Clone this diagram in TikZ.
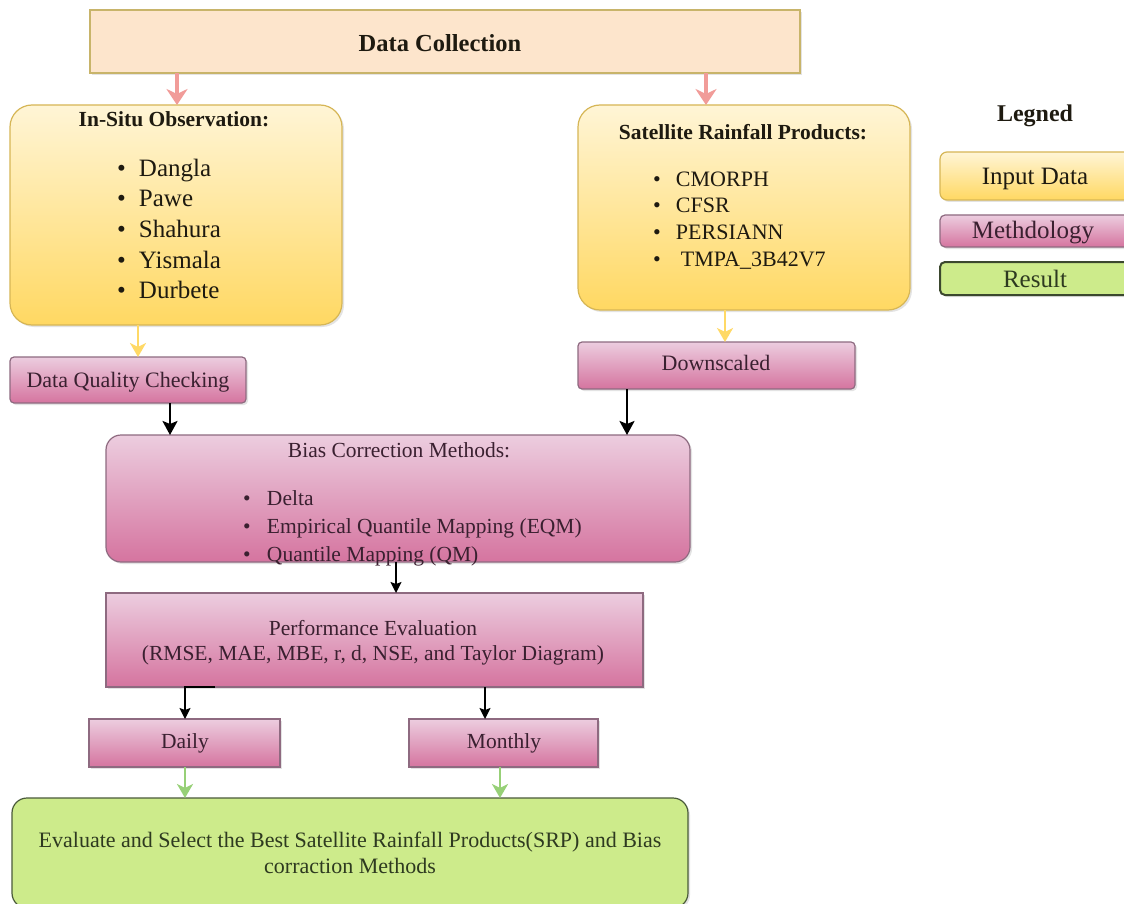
\documentclass[tikz,border=0pt]{standalone}
\usepackage{fontspec}
\setmainfont{Liberation Serif}
\usetikzlibrary{arrows.meta,shadows}
\definecolor{dcfill}{HTML}{FDE5CC}
\definecolor{dcline}{HTML}{C8B46A}
\definecolor{ytop}{HTML}{FFF5D6}
\definecolor{ybot}{HTML}{FFD862}
\definecolor{yline}{HTML}{D6B656}
\definecolor{ptop}{HTML}{ECCDDF}
\definecolor{pbot}{HTML}{D5749F}
\definecolor{pline}{HTML}{8E6A80}
\definecolor{gfill}{HTML}{CDEB8B}
\definecolor{gline}{HTML}{4A5A3A}
\definecolor{parrow}{HTML}{F19C99}
\definecolor{yarrow}{HTML}{FFD966}
\definecolor{garrow}{HTML}{97D077}
\definecolor{ptext}{HTML}{3A2030}
\definecolor{gtext}{HTML}{2E3A20}
\definecolor{ytext}{HTML}{1E1A10}
\begin{document}
\begin{tikzpicture}[x=1pt,y=-1pt,
  every node/.style={inner sep=0pt,outer sep=0pt},
  shd/.style={drop shadow={opacity=0.22,shadow xshift=2pt,shadow yshift=-2pt}},
  boxbase/.style={anchor=north west,line width=1.2pt},
  dcbox/.style={boxbase,draw=dcline,fill=dcfill,shd},
  ybox/.style={boxbase,draw=yline,top color=ytop,bottom color=ybot,shd},
  pbox/.style={boxbase,draw=pline,top color=ptop,bottom color=pbot,shd},
  gbox/.style={boxbase,draw=gline,fill=gfill,shd},
  parr/.style={draw=parrow,line width=3.5pt,-{Stealth[length=16pt,width=21pt,inset=5pt]}},
  yarr/.style={draw=yarrow,line width=2.5pt,-{Stealth[length=14pt,width=16pt,inset=4pt]}},
  garr/.style={draw=garrow,line width=2.5pt,-{Stealth[length=14pt,width=16pt,inset=4pt]}},
  barr/.style={draw=black,line width=2.5pt,-{Stealth[length=14pt,width=15pt,inset=3pt]}},
  tarr/.style={draw=black,line width=1.5pt,-{Stealth[length=11pt,width=11pt,inset=2pt]}},
  ttl/.style={anchor=base,font=\bfseries\fontsize{21.5}{25}\selectfont,text=ytext},
  yitem/.style={anchor=base west,font=\fontsize{25}{29}\selectfont,text=ytext},
  sitem/.style={anchor=base west,font=\fontsize{22}{26}\selectfont,text=ytext},
  ptxt/.style={anchor=base,font=\fontsize{21.5}{25}\selectfont,text=ptext},
  pitem/.style={anchor=base west,font=\fontsize{21.5}{25}\selectfont,text=ptext},
  ltxt/.style={anchor=base,font=\fontsize{25}{29}\selectfont,text=ytext}
]
\fill[white] (0,0) rectangle (1124,904);
\useasboundingbox (0,0) rectangle (1124,904);

% boxes
\node[dcbox,minimum width=710pt,minimum height=63pt] (dc) at (90,10) {};
\node[ybox,rounded corners=22pt,minimum width=332pt,minimum height=220pt] (ins) at (10,105) {};
\node[ybox,rounded corners=22pt,minimum width=332pt,minimum height=205pt] (sat) at (578,105) {};
\node[pbox,rounded corners=4pt,minimum width=236pt,minimum height=46pt] (dqc) at (10,357) {};
\node[pbox,rounded corners=4pt,minimum width=277pt,minimum height=47pt] (down) at (578,342) {};
\node[pbox,rounded corners=15pt,minimum width=584pt,minimum height=127pt] (bias) at (106,435) {};
\node[pbox,minimum width=537pt,minimum height=94pt] (perf) at (106,593) {};
\node[pbox,minimum width=191pt,minimum height=48pt] (daily) at (89,719) {};
\node[pbox,minimum width=189pt,minimum height=48pt] (month) at (409,719) {};
\node[gbox,rounded corners=15pt,minimum width=676pt,minimum height=110pt] (res) at (12,798) {};

% legend
\node[anchor=base,font=\bfseries\fontsize{24}{28}\selectfont,text=ytext] (leg) at (1035,122) {Legned};
\node[ybox,rounded corners=7pt,minimum width=192pt,minimum height=48pt] (lin) at (940,152) {};
\node[pbox,rounded corners=5pt,minimum width=192pt,minimum height=32pt] (lme) at (940,215) {};
\node[gbox,line width=2pt,draw=gline!80!black,rounded corners=5pt,minimum width=192pt,minimum height=33pt] (lre) at (940,262) {};
\node[ltxt] (lint) at (1035,185) {Input Data};
\node[ltxt,text=ptext] (lmet) at (1033,238) {Methdology};
\node[ltxt,text=gtext] (lres) at (1035,287) {Result};

% texts
\node[anchor=base,font=\bfseries\fontsize{24.5}{28}\selectfont,text=ytext] (dct) at (440,52) {Data Collection};
\node[ttl] (inst) at (174,127) {In-Situ Observation:};
\node[yitem] (i1) at (117,177) {\makebox[22pt][l]{\textbullet}Dangla};
\node[yitem] (i2) at (117,207) {\makebox[22pt][l]{\textbullet}Pawe};
\node[yitem] (i3) at (117,237) {\makebox[22pt][l]{\textbullet}Shahura};
\node[yitem] (i4) at (117,268) {\makebox[22pt][l]{\textbullet}Yismala};
\node[yitem] (i5) at (117,298) {\makebox[22pt][l]{\textbullet}Durbete};

\node[ttl] (satt) at (743,140) {Satellite Rainfall Products:};
\node[sitem] (s1) at (653,187) {\makebox[23pt][l]{\textbullet}CMORPH};
\node[sitem] (s2) at (653,213) {\makebox[23pt][l]{\textbullet}CFSR};
\node[sitem] (s3) at (653,239) {\makebox[23pt][l]{\textbullet}PERSIANN};
\node[sitem] (s4) at (653,266) {\makebox[23pt][l]{\textbullet}\hspace{5pt}TMPA\_3B42V7};

\node[ptxt,font=\fontsize{22}{26}\selectfont] (dqct) at (128,387) {Data Quality Checking};
\node[ptxt,font=\fontsize{22}{26}\selectfont] (downt) at (716,370) {Downscaled};

\node[ptxt] (biast) at (399,457) {Bias Correction Methods:};
\node[pitem] (b1) at (243,505) {\makebox[24pt][l]{\textbullet}Delta};
\node[pitem] (b2) at (243,533) {\makebox[24pt][l]{\textbullet}Empirical Quantile Mapping (EQM)};
\node[pitem] (b3) at (243,561) {\makebox[24pt][l]{\textbullet}Quantile Mapping (QM)};

\node[ptxt] (perf1) at (373,635) {Performance Evaluation};
\node[ptxt] (perf2) at (373,660) {(RMSE, MAE, MBE, r, d, NSE, and Taylor Diagram)};

\node[ptxt] (dailyt) at (185,748) {Daily};
\node[ptxt] (montht) at (504,748) {Monthly};

\node[anchor=base,font=\fontsize{22}{26}\selectfont,text=gtext] (res1) at (350,847) {Evaluate and Select the Best Satellite Rainfall Products(SRP) and Bias};
\node[anchor=base,font=\fontsize{22}{26}\selectfont,text=gtext] (res2) at (350,873) {corraction Methods};

% connector x positions
\coordinate (xa) at (177,0);
\coordinate (xb) at (706,0);
\coordinate (xc) at (138,0);
\coordinate (xd) at (725,0);
\coordinate (xe) at (170,0);
\coordinate (xf) at (627,0);
\coordinate (xg) at (396,0);
\coordinate (xh) at (215,0);
\coordinate (xi) at (185,0);
\coordinate (xj) at (485,0);
\coordinate (xk) at (500,0);

\draw[parr] (dc.south -| xa) -- (ins.north -| xa);
\draw[parr] (dc.south -| xb) -- (sat.north -| xb);
\draw[yarr] (ins.south -| xc) -- (dqc.north -| xc);
\draw[yarr] (sat.south -| xd) -- (down.north -| xd);
\draw[barr] (dqc.south -| xe) -- (bias.north -| xe);
\draw[barr] (down.south -| xf) -- (bias.north -| xf);
\draw[tarr] (bias.south -| xg) -- (perf.north -| xg);
\draw[tarr] (perf.south -| xh) -- (perf.south -| xi) -- (daily.north -| xi);
\draw[tarr] (perf.south -| xj) -- (month.north -| xj);
\draw[garr] (daily.south -| xi) -- (res.north -| xi);
\draw[garr] (month.south -| xk) -- (res.north -| xk);
\end{tikzpicture}
\end{document}
